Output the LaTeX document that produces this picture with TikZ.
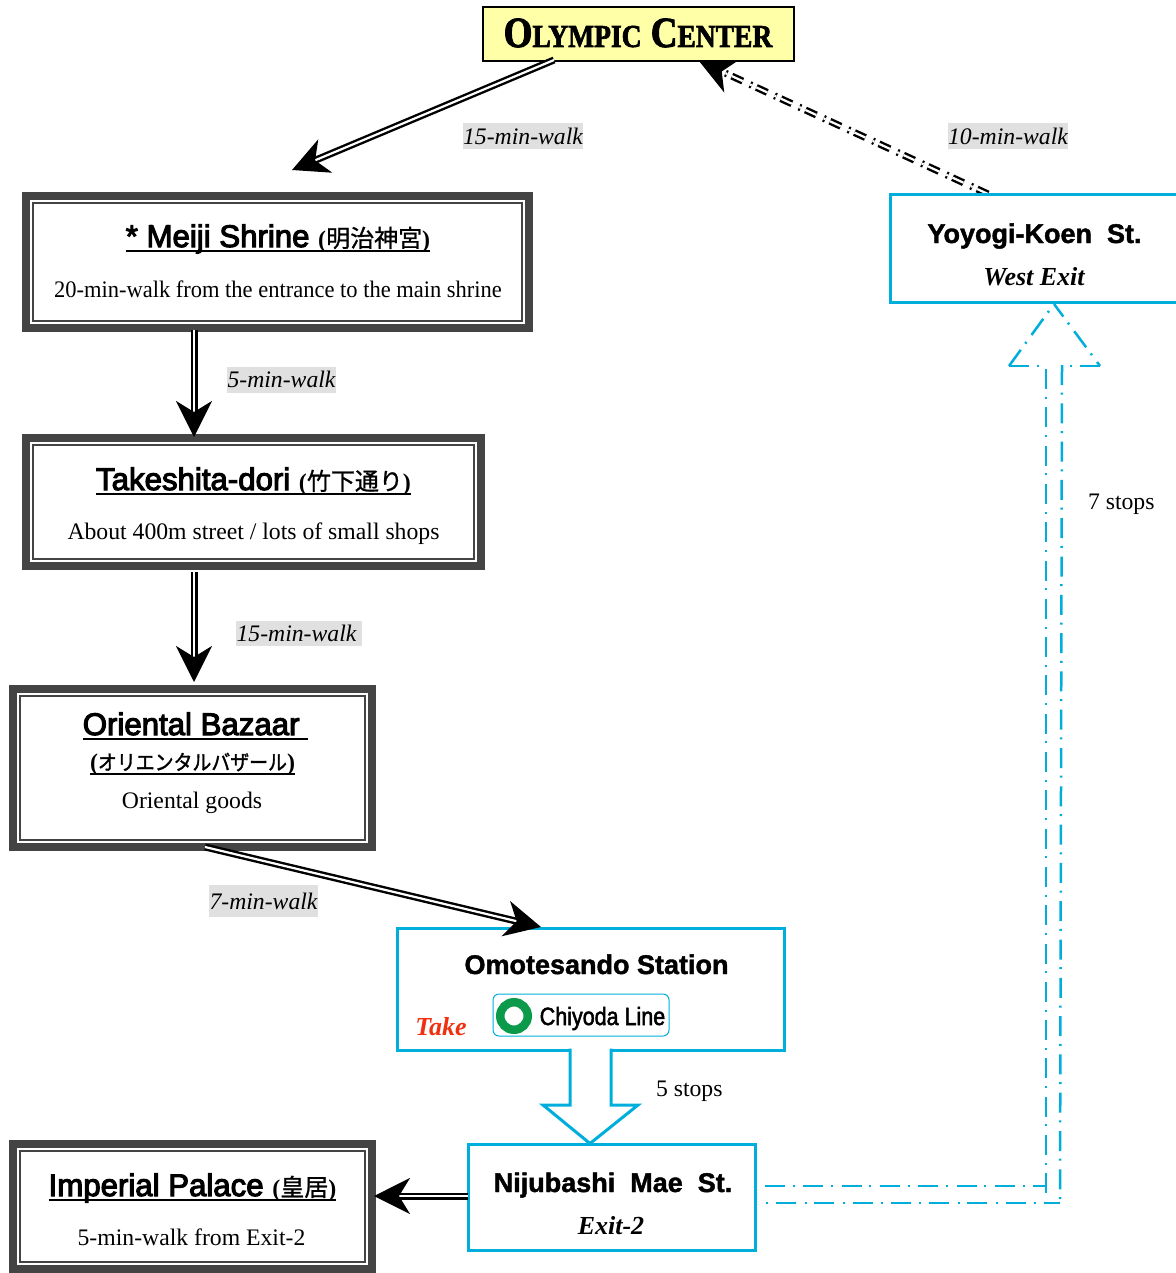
\documentclass[tikz,border=0pt]{standalone}
\usepackage{fontspec}
\usetikzlibrary{arrows.meta,backgrounds}
\setmainfont{Liberation Serif}
\newfontfamily\headfam{Liberation Sans}[FakeBold=3.5]
\newfontfamily\stationfam{Liberation Sans Bold}[FakeBold=1.5]
\newfontfamily\linefam{Liberation Sans}[FakeStretch=0.86,FakeBold=2]
\newfontfamily\jpfam{Noto Sans CJK JP}[FakeBold=1]
\newfontfamily\jpnarrow{Noto Sans CJK JP}[FakeStretch=0.9,FakeBold=1.5]
\newfontfamily\olyfam{Liberation Serif Bold}[FakeStretch=0.86,FakeBold=2]
\newfontfamily\narrowbody{Liberation Serif}[FakeStretch=0.949]
\definecolor{framegray}{HTML}{444444}
\definecolor{railblue}{HTML}{00AEDB}
\definecolor{notepaper}{HTML}{FFFFA8}
\definecolor{labelgray}{HTML}{E0E0E0}
\definecolor{takered}{HTML}{F03010}
\definecolor{ringgreen}{HTML}{0A9A4A}
\newcommand\placed[3]{\makebox[0pt]{\hspace*{\dimexpr 2\dimexpr #1pt\relax\relax}\raisebox{#2pt}[0pt][0pt]{#3}}}
\newcommand\ulbox[1]{\setbox0\hbox{#1}\rlap{\rule[-4.5pt]{\wd0}{2pt}}\box0 }
\newcommand\ttl{\headfam\fontsize{31.2}{36}\selectfont}
\newcommand\paren{\rmfamily\bfseries\fontsize{24}{28}\selectfont}
\newcommand\kanji{\jpfam\fontsize{24}{28}\selectfont}
\newcommand\body{\rmfamily\fontsize{23.7}{28}\selectfont}
\newcommand\station{\stationfam\fontsize{27}{32}\selectfont}
\newcommand\exitf{\rmfamily\bfseries\itshape\fontsize{26}{30}\selectfont}
\tikzset{
  framedbox/.style={rectangle,draw=framegray,line width=8pt,fill=white,inner sep=0pt,outer sep=0pt,
    path picture={\draw[framegray,line width=1.8pt]
      ([shift={(7.2,7.2)}]path picture bounding box.north west) rectangle
      ([shift={(-7.2,-7.2)}]path picture bounding box.south east);}},
  stationbox/.style={rectangle,draw=railblue,line width=3pt,fill=white,inner sep=0pt,outer sep=0pt},
  notebox/.style={rectangle,draw=black,line width=2pt,fill=notepaper,inner sep=0pt,outer sep=0pt},
  walklabel/.style={rectangle,fill=labelgray,inner sep=0pt,outer sep=0pt},
  stoplabel/.style={inner sep=0pt,outer sep=0pt,anchor=base west,font=\body},
  walkline/.style={draw=black,double=white,line width=2.4pt,double distance=2.2pt},
  walktip/.style={-{Stealth[length=36pt,width=36pt,inset=11pt]}},
  rail/.style={draw=railblue,line width=2.5pt,dash pattern=on 20pt off 7.7pt on 2pt off 8.6pt},
}
\begin{document}
\begin{tikzpicture}[x=1pt,y=-1pt]
\useasboundingbox (0,0) rectangle (1175,1273);
% boxes
\node[notebox,minimum width=311pt,minimum height=54pt] (olympic) at (638.5,34)
  {\placed{-0.5}{-13}{\olyfam\fontsize{43}{44}\selectfont O{\fontsize{32}{34}\selectfont LYMPIC} C{\fontsize{32}{34}\selectfont ENTER}}};
\node[framedbox,minimum width=503pt,minimum height=132pt] (meiji) at (277.5,262)
  {\placed{0.5}{15}{\ulbox{{\ttl * Meiji Shrine }{\paren(}{\kanji 明治神宮}{\paren)}}}%
   \placed{0.5}{-35}{\narrowbody\fontsize{23.7}{28}\selectfont 20-min-walk from the entrance to the main shrine}};
\node[framedbox,minimum width=455pt,minimum height=128pt] (takeshita) at (253.5,502)
  {\placed{0}{12}{\ulbox{{\ttl Takeshita-dori }{\paren(}{\kanji 竹下通り}{\paren)}}}%
   \placed{0}{-37}{\body About 400m street / lots of small shops}};
\node[framedbox,minimum width=359pt,minimum height=158pt] (oriental) at (192.5,768)
  {\placed{3}{33}{\ulbox{{\ttl Oriental Bazaar }}}%
   \placed{0}{-2}{\ulbox{{\paren(}{\jpnarrow\fontsize{21}{24}\selectfont オリエンタルバザール}{\paren)}}}%
   \placed{-0.5}{-40}{\body Oriental goods}};
\node[framedbox,minimum width=359pt,minimum height=125pt] (palace) at (192.5,1206.5)
  {\placed{0}{10.5}{\ulbox{{\ttl Imperial Palace }{\paren(}{\kanji 皇居}{\paren)}}}%
   \placed{-1}{-38.5}{\body 5-min-walk from Exit-2}};
\node[stationbox,minimum width=387pt,minimum height=122pt] (omote) at (591,989)
  {\placed{5.5}{15}{\station Omotesando Station}%
   \placed{-150}{-46}{\exitf\fontsize{26}{30}\selectfont\color{takered}Take}};
\node[stationbox,minimum width=287pt,minimum height=106pt] (niju) at (612,1197.5)
  {\placed{1}{5.5}{\station Nijubashi\ \ Mae\ \ St.}%
   \placed{-1}{-36.5}{\exitf Exit-2}};
\node[stationbox,minimum width=287pt,minimum height=107pt] (yoyogi) at (1034,248.5)
  {\placed{0.5}{5.5}{\station Yoyogi-Koen\ \ St.}%
   \placed{0}{-36.5}{\exitf West Exit}};
% line sign
\node[rectangle,rounded corners=6pt,draw=railblue,line width=1pt,fill=white,inner sep=0pt,minimum width=176pt,minimum height=42pt] (chiyoda) at (581,1015)
  {\placed{21.5}{-10}{\linefam\fontsize{25}{30}\selectfont Chiyoda Line}};
\node[circle,draw=ringgreen,line width=8.5pt,fill=white,inner sep=0pt,minimum size=27.5pt] (ring) at (514,1016) {};
% labels
\node[walklabel,minimum width=120pt,minimum height=26pt] (l15a) at (523,136) {\placed{0}{-8.5}{\body\itshape 15-min-walk}};
\node[walklabel,minimum width=120pt,minimum height=26pt] (l10) at (1008,136) {\placed{0}{-8.5}{\body\itshape 10-min-walk}};
\node[walklabel,minimum width=109pt,minimum height=26pt] (l5) at (281.5,380) {\placed{0}{-7}{\body\itshape 5-min-walk}};
\node[walklabel,minimum width=126pt,minimum height=25pt] (l15b) at (299,633.5) {\placed{-2.5}{-7.5}{\body\itshape 15-min-walk}};
\node[walklabel,minimum width=109pt,minimum height=32pt] (l7) at (263.5,901) {\placed{0}{-8}{\body\itshape 7-min-walk}};
\node[stoplabel] (s5) at (656,1096) {5 stops};
\node[stoplabel] (s7) at (1088,509.5) {7 stops};
% walking connectors
\draw[walkline,walktip] ([shift={(-84.5,-1)}]olympic.south) -- ([shift={(14.5,-26)}]meiji.north);
\draw[walkline,walktip] ([shift={(-83.5,2)}]meiji.south) -- ([shift={(-59.5,-1)}]takeshita.north);
\draw[walkline,walktip] ([shift={(-59.5,6)}]takeshita.south) -- ([shift={(1.5,-7)}]oriental.north);
\draw[walkline,walktip] ([shift={(12.5,0)}]oriental.south) -- ([shift={(-50,-1)}]omote.north);
\draw[walkline,walktip] ([shift={(-0.5,-1.5)}]niju.west) -- ([shift={(2,-10.5)}]palace.east);
\begin{pgfonlayer}{background}
\draw[walkline,walktip,dash pattern=on 12pt off 5pt on 2pt off 8pt] ([shift={(-46,-1)}]yoyogi.north) -- ([shift={(60.5,0)}]olympic.south);
\end{pgfonlayer}
% block arrow between stations
\draw[draw=railblue,line width=3pt,fill=white,line join=miter]
  ([shift={(-21,-1.5)}]omote.south) -- (570,1105) -- (543,1105) -- ([shift={(-22,-1)}]niju.north) -- (638,1105) -- (611,1105) -- ([shift={(20,-1.5)}]omote.south);
% dash-dotted block arrow between stations
\coordinate (railtop) at ([shift={(20,2)}]yoyogi.south);
\coordinate (railout) at ([shift={(9.5,-11.5)}]niju.east);
\coordinate (railback) at ([shift={(9.5,5.5)}]niju.east);
\draw[rail] (railout) -- (1046,1186);
\draw[rail,dash phase=4pt] (1060,1203) -- (railback);
\draw[rail] (1046,369) -- (1046,1196);
\draw[rail] (1062,365) -- (1060,1203);
\draw[rail] (1009,366) -- (railtop);
\draw[rail,dash phase=4.4pt] (railtop) -- (1100,366);
\draw[rail] (1009,366) -- (1046,366);
\draw[rail] (1100,366) -- (1062,366);
\end{tikzpicture}
\end{document}
